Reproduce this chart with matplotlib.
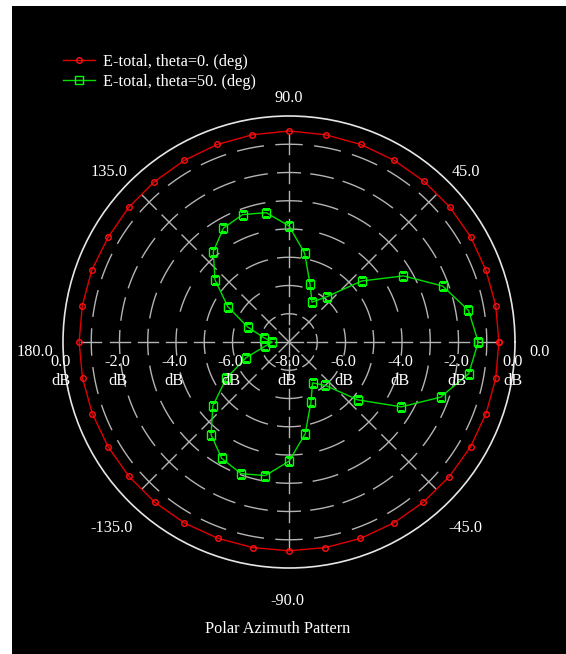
import numpy as np
import matplotlib
matplotlib.use("Agg")
import matplotlib.pyplot as plt
from matplotlib.patches import Rectangle

# azimuth angles (deg), 10 deg steps
phi_deg = np.arange(0, 360, 10)

# E-total, theta=0 deg  (dB)
etot_theta0 = [-0.57, -0.57, -0.58, -0.57, -0.57, -0.57, -0.57, -0.56, -0.55,
               -0.53, -0.55, -0.56, -0.58, -0.59, -0.59, -0.60, -0.57, -0.57,
               -0.57, -0.58, -0.59, -0.60, -0.60, -0.60, -0.60, -0.61, -0.61,
               -0.61, -0.61, -0.60, -0.60, -0.60, -0.59, -0.58, -0.58, -0.57]

# E-total, theta=50 deg  (dB)
etot_theta50 = [-1.30, -1.55, -2.21, -3.32, -4.64, -5.90, -6.37, -5.82, -4.81,
                -3.89, -3.35, -3.20, -3.35, -3.83, -4.58, -5.50, -6.44, -7.09,
                -7.40, -7.14, -6.39, -5.44, -4.48, -3.71, -3.24, -3.04, -3.20,
                -3.78, -4.70, -5.73, -6.33, -5.99, -4.81, -3.41, -2.29, -1.54]

r_min, r_max = -8.0, 0.0
r_ticks = [-8.0, -6.0, -4.0, -2.0, 0.0]
angle_labels = ["0.0", "45.0", "90.0", "135.0", "180.0", "-135.0", "-90.0", "-45.0"]
legend_labels = ["E-total, theta=0. (deg)", "E-total, theta=50. (deg)"]
title = "Polar Azimuth Pattern"

FONT = "Liberation Serif"
FS = 11.7
W, H = 566, 654
cx, cy, R = 289, 342, 226      # plot centre and radius in pixels
grid_col = "#b4b4b4"

fig = plt.figure(figsize=(W / 100, H / 100), dpi=100, facecolor="white")
fig.add_artist(Rectangle((12 / W, 0), (W - 12) / W, (H - 6) / H,
                         transform=fig.transFigure, facecolor="black",
                         edgecolor="none", zorder=-10))

ax = fig.add_axes([(cx - R) / W, (H - cy - R) / H, 2 * R / W, 2 * R / H],
                  projection="polar")
ax.patch.set_alpha(0)
ax.set_ylim(r_min, r_max)
ax.set_xticks([])
ax.set_yticks([])
ax.grid(False)
ax.spines["polar"].set_color("#e6e6e6")
ax.spines["polar"].set_linewidth(1.2)


def px2db(p):
    return r_min + p * (r_max - r_min) / R


# dashed rings, dashes centred on the spokes
for db in range(-7, 0):
    rp = (db - r_min) / (r_max - r_min) * R
    n = max(1, int(round(rp * np.pi / 4 / 38)))
    half = min(13.0 / rp, 0.34 * (np.pi / 4) / n)
    for k in range(8 * n):
        c = k * (np.pi / 4) / n
        t = np.linspace(c - half, c + half, 12)
        ax.plot(t, np.full_like(t, db), color=grid_col, lw=1.0, zorder=1)

# dashed spokes, dashes centred on the rings
for a in np.deg2rad(np.arange(0, 360, 45)):
    ax.plot([a, a], [r_min, px2db(14)], color=grid_col, lw=1.0, zorder=1)
    for db in range(-7, 0):
        rp = (db - r_min) / (r_max - r_min) * R
        ax.plot([a, a], [px2db(rp - 10), px2db(rp + 10)], color=grid_col,
                lw=1.0, zorder=1)

th = np.deg2rad(np.append(phi_deg, 360))
red = ax.plot(th, np.append(etot_theta0, etot_theta0[0]), color="#e00000",
              lw=1.0, marker="o", ms=4, mfc="none", mec="#ff1010", mew=1.0,
              label=legend_labels[0], zorder=3)[0]
green = ax.plot(th, np.append(etot_theta50, etot_theta50[0]), color="#00e000",
                lw=1.0, marker="s", ms=5.5, mfc="none", mec="#00ff00",
                mew=1.0, label=legend_labels[1], zorder=3)[0]

txt = dict(color="white", fontfamily=FONT, fontsize=FS, ha="center",
           va="center", annotation_clip=False)

# angle labels, offsets from the centre in pixels
ang_off = [(251, 10), (177, -170), (0, -244), (-180, -170),
           (-254, 10), (-177, 186), (-2, 259), (176, 186)]
for lab, (dx, dy) in zip(angle_labels, ang_off):
    ax.annotate(lab, xy=(0, r_min), xytext=(dx * 0.72, -dy * 0.72),
                textcoords="offset points", **txt)

# radial labels on both sides of the horizontal axis
for v in r_ticks:
    rp = (v - r_min) / (r_max - r_min) * R
    sides = [1] if v == r_min else [1, -1]
    for s in sides:
        dx = s * rp - 2
        ax.annotate("%.1f" % v, xy=(0, r_min), xytext=(dx * 0.72, -20 * 0.72),
                    textcoords="offset points", **txt)
        ax.annotate("dB", xy=(0, r_min), xytext=(dx * 0.72, -39 * 0.72),
                    textcoords="offset points", **txt)

fig.legend(handles=[red, green], loc="upper left",
           bbox_to_anchor=(63 / W, 1 - 54 / H), frameon=False,
           labelcolor="white", prop={"family": FONT, "size": FS},
           handlelength=1.97, handletextpad=0.5, labelspacing=0.25,
           borderpad=0, borderaxespad=0)

fig.text(278 / W, 1 - 629 / H, title, color="white", fontfamily=FONT,
         fontsize=FS, ha="center", va="center")

fig.savefig("out.png", dpi=100, facecolor=fig.get_facecolor())
